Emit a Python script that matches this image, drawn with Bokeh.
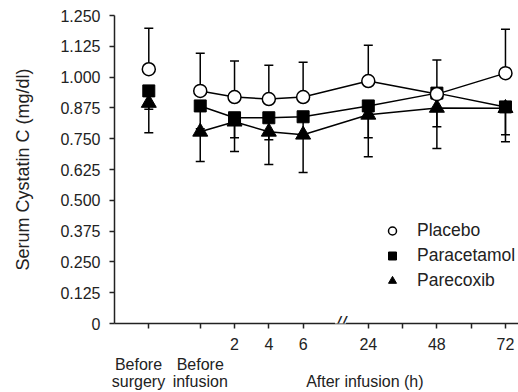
from bokeh.plotting import figure
from bokeh.models import (Range1d, FixedTicker, LinearAxis, Legend, LegendItem,
                          Label, CustomJSTickFormatter)
from bokeh.embed import file_html
from bokeh.resources import INLINE

# ---------------- data ----------------
time_labels = ["Before surgery", "Before infusion", "2", "4", "6", "24", "48", "72"]
after_hours = [2, 4, 6, 24, 48, 72]
minor_hours = [36, 60]

placebo = [1.032, 0.944, 0.919, 0.911, 0.919, 0.984, 0.931, 1.016]
placebo_upper = [1.198, 1.097, 1.065, 1.048, 1.060, 1.129, 1.069, 1.194]

paracetamol = [0.944, 0.883, 0.835, 0.835, 0.839, 0.883, 0.935, 0.879]
paracetamol_lower = [0.870, 0.790, 0.754, 0.746, 0.770, 0.754, 0.798, 0.766]

parecoxib = [0.895, 0.778, 0.819, 0.778, 0.766, 0.847, 0.875, 0.874]
parecoxib_lower = [0.774, 0.657, 0.698, 0.645, 0.613, 0.677, 0.710, 0.738]

y_ticks = [0, 0.125, 0.25, 0.375, 0.5, 0.625, 0.75, 0.875, 1.0, 1.125, 1.25]


# broken time axis: slot positions (units of 0.1 slot)
def pos_hours(h):
    if h <= 6:
        return int(round(25 + 5 * h))
    return int(round(74 + (h - 24) * 10 / 12))


xs = [10, 25] + [pos_hours(h) for h in after_hours]
tick_pos = sorted(xs + [pos_hours(h) for h in minor_hours])
overrides = {t: "" for t in tick_pos}
for h in after_hours:
    overrides[pos_hours(h)] = str(h)

FONT = "Liberation Sans"
TXT = "#222222"
AX = "#222222"

p = figure(width=518, height=392, x_range=Range1d(0, 117.8), y_range=Range1d(0, 1.25),
           output_backend="svg", toolbar_location=None,
           min_border_left=114, min_border_right=0, min_border_top=15, min_border_bottom=68)
p.outline_line_color = None
p.xgrid.visible = False
p.ygrid.visible = False
p.background_fill_color = "white"

# y axis
ya = p.yaxis[0]
ya.ticker = FixedTicker(ticks=y_ticks)
ya.formatter = CustomJSTickFormatter(code="return tick == 0 ? '0' : tick.toFixed(3);")
ya.major_label_text_font = FONT
ya.major_label_text_font_size = "16px"
ya.major_label_text_color = TXT
ya.major_tick_out = 5
ya.major_tick_in = 0
ya.minor_tick_line_color = None
ya.axis_line_width = 1.5
ya.major_tick_line_width = 1.5
ya.axis_line_color = AX
ya.major_tick_line_color = AX
ya.major_label_standoff = 9
ya.axis_label = "Serum Cystatin C (mg/dl)"
ya.axis_label_text_font = FONT
ya.axis_label_text_font_size = "18px"
ya.axis_label_text_font_style = "normal"
ya.axis_label_text_color = TXT
ya.axis_label_standoff = 24

# x axis (numbers)
xa = p.xaxis[0]
xa.ticker = FixedTicker(ticks=tick_pos)
xa.major_label_overrides = overrides
xa.major_label_text_font = FONT
xa.major_label_text_font_size = "16px"
xa.major_label_text_color = TXT
xa.major_tick_out = 5
xa.major_tick_in = 0
xa.minor_tick_line_color = None
xa.axis_line_width = 1.5
xa.major_tick_line_width = 1.5
xa.axis_line_color = AX
xa.major_tick_line_color = AX
xa.major_label_standoff = 9

# second x axis with category text
lbl_surgery, lbl_infusion, lbl_after = 7, 25, 73
xa2 = LinearAxis(ticker=FixedTicker(ticks=[lbl_surgery, lbl_infusion, lbl_after]),
                 major_label_overrides={lbl_surgery: "Before\nsurgery",
                                        lbl_infusion: "Before\ninfusion",
                                        lbl_after: " \nAfter infusion (h)"})
xa2.axis_line_color = None
xa2.major_tick_line_color = None
xa2.minor_tick_line_color = None
xa2.major_tick_out = 0
xa2.major_tick_in = 0
xa2.major_label_standoff = 3
xa2.major_label_text_font = FONT
xa2.major_label_text_font_size = "16px"
xa2.major_label_text_color = TXT
xa2.major_label_text_line_height = 1.0
p.add_layout(xa2, "below")

LW = 1.5
# connecting lines (from before infusion on)
p.line(xs[1:], placebo[1:], line_color="black", line_width=LW)
p.line(xs[1:], paracetamol[1:], line_color="black", line_width=LW)
p.line(xs[1:], parecoxib[1:], line_color="black", line_width=LW)

# error bars
p.segment(x0=xs, y0=placebo, x1=xs, y1=placebo_upper, line_color="black", line_width=LW)
p.scatter(xs, placebo_upper, marker="dash", size=9, line_color="black", line_width=LW)
p.segment(x0=xs, y0=paracetamol, x1=xs, y1=paracetamol_lower, line_color="black", line_width=LW)
p.scatter(xs, paracetamol_lower, marker="dash", size=9, line_color="black", line_width=LW)
p.segment(x0=xs, y0=parecoxib, x1=xs, y1=parecoxib_lower, line_color="black", line_width=LW)
p.scatter(xs, parecoxib_lower, marker="dash", size=9, line_color="black", line_width=LW)

# markers
r_tri = p.scatter(xs, parecoxib, marker="triangle", size=15, fill_color="black",
                  line_color="black", line_width=1)
r_sq = p.scatter(xs, paracetamol, marker="square", size=12, fill_color="black",
                 line_color="black", line_width=1)
r_circ = p.scatter(xs, placebo, marker="circle", size=13, fill_color="white",
                   line_color="black", line_width=LW)

legend = Legend(items=[LegendItem(label="Placebo", renderers=[r_circ]),
                       LegendItem(label="Paracetamol", renderers=[r_sq]),
                       LegendItem(label="Parecoxib", renderers=[r_tri])],
                location=(268, 30))
legend.border_line_color = None
legend.background_fill_alpha = 0
legend.label_text_font = FONT
legend.label_text_font_size = "17.5px"
legend.label_text_color = TXT
legend.glyph_width = 20
legend.glyph_height = 25
legend.label_height = 25
legend.spacing = 0
legend.padding = 0
legend.margin = 0
legend.label_standoff = 15
p.add_layout(legend, "center")

# axis break mark
brk = Label(x=65.9, y=0, text="//", text_align="center", text_baseline="middle",
            text_font=FONT, text_font_size="20px", text_font_style="italic",
            text_color=TXT, background_fill_color="white", padding=0)
p.add_layout(brk)

open("out.html", "w").write(file_html(p, INLINE))
